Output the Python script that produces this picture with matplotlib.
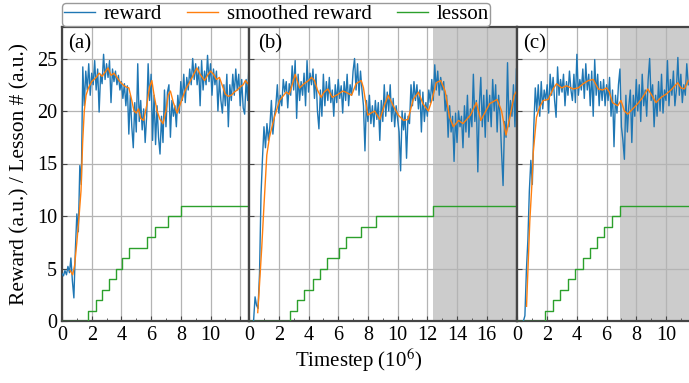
import numpy as np
import matplotlib
matplotlib.use("Agg")
import matplotlib.pyplot as plt
from matplotlib.ticker import MultipleLocator

# ---- data (timesteps in 1e6) ----
T_STEP = 0.1

reward_a_start = 0.0
reward_a = [4.5, 4.3, 4.8, 4.4, 5.2, 4.6, 6.0, 3.8, 2.2, 6.8,
            10.2, 8.5, 14.8, 13.0, 24.2, 20.5, 23.8, 22.0, 24.5, 21.5,
            23.6, 22.5, 24.8, 22.0, 24.0, 19.9, 23.5, 22.6, 25.4, 23.0,
            24.5, 23.2, 24.8, 20.8, 24.0, 22.8, 23.8, 22.5, 23.4, 22.0,
            22.8, 21.2, 22.6, 20.5, 22.4, 17.8, 21.5, 18.5, 16.5, 20.8,
            18.0, 24.5, 19.0, 21.0, 18.2, 20.2, 17.0, 19.5, 24.5, 21.0,
            23.5, 17.2, 21.5, 16.8, 20.5, 17.5, 15.9, 19.5, 17.0, 22.0,
            18.5, 21.8, 22.5, 17.5, 21.0, 19.5, 20.5, 18.5, 21.5, 19.8,
            22.8, 21.0, 23.5, 20.8, 23.2, 22.0, 24.0, 22.5, 25.0, 23.0,
            24.5, 22.5, 24.2, 20.5, 24.8, 22.0, 23.8, 22.5, 25.3, 22.8,
            24.5, 21.5, 24.0, 22.5, 23.8, 20.0, 23.0, 21.0, 19.8, 22.5,
            20.5, 23.5, 18.5, 22.5, 21.0, 23.5, 21.5, 24.0, 22.0, 23.5,
            20.5, 23.0, 20.3, 19.7, 23.0, 21.0, 25.0]

reward_b_start = 0.3
reward_b = [0.0, 2.3, 1.5, 1.2, 4.5, 12.0, 15.5, 18.5, 16.5, 18.8,
            17.2, 18.6, 21.0, 17.8, 19.5, 20.5, 22.5, 19.8, 21.5, 20.5,
            23.0, 21.8, 22.8, 20.3, 22.6, 21.5, 24.3, 22.0, 24.8, 19.3,
            23.5, 21.0, 22.8, 21.5, 23.6, 20.5, 24.8, 21.8, 23.6, 22.5,
            24.0, 21.2, 23.5, 20.0, 18.3, 22.0, 19.5, 23.5, 20.5, 22.8,
            21.0, 23.2, 20.8, 22.0, 19.5, 22.5, 20.8, 23.0, 21.2, 22.4,
            19.8, 22.8, 21.0, 23.5, 20.5, 22.5, 21.5, 23.8, 25.0, 22.0,
            24.5, 21.5, 23.8, 22.0, 20.5, 16.2, 21.0, 19.0, 21.5, 18.8,
            20.5, 18.5, 21.0, 19.2, 20.8, 17.2, 21.0, 19.0, 22.5, 19.5,
            21.8, 20.0, 22.5, 19.0, 21.2, 18.5, 20.5, 19.2, 18.0, 14.3,
            20.0, 18.2, 19.8, 15.5, 19.5, 18.8, 22.5, 20.5, 22.8, 21.0,
            22.5, 20.2, 22.0, 18.0, 21.8, 19.0, 20.8, 19.5, 22.0, 20.8,
            23.0, 21.0, 24.4, 22.0, 23.8, 21.5, 23.2, 22.0, 22.8, 20.0,
            21.5, 17.5, 20.5, 18.0, 19.5, 15.2, 19.8, 17.0, 20.0, 18.5,
            19.5, 16.5, 20.5, 18.0, 21.5, 17.5, 20.2, 18.5, 23.5, 19.0,
            21.0, 14.2, 20.5, 23.2, 18.5, 21.5, 17.5, 22.0, 19.0, 21.5,
            18.5, 23.0, 20.0, 22.5, 18.0, 21.5, 19.5, 16.0, 12.9, 19.0,
            17.5, 24.6, 18.5, 21.0, 19.5, 22.5, 18.5, 24.0]

reward_c_start = 0.4
reward_c = [0.0, 0.5, 4.8, 7.7, 12.4, 15.3, 13.0, 18.5, 22.2, 20.0,
            22.5, 19.5, 22.8, 20.2, 22.0, 21.0, 22.5, 19.8, 23.5, 21.5,
            23.2, 21.0, 19.4, 24.2, 21.5, 23.0, 21.8, 23.5, 20.5, 22.8,
            21.5, 23.8, 22.0, 21.0, 23.5, 20.8, 25.4, 21.5, 23.0, 22.0,
            24.0, 21.2, 24.5, 22.0, 23.5, 20.5, 23.8, 19.5, 24.9, 21.5,
            23.5, 20.5, 22.8, 21.0, 23.0, 20.5, 22.5, 21.0, 23.2, 19.5,
            22.0, 16.6, 21.5, 19.8, 22.5, 24.0, 18.5, 17.2, 15.4, 21.5,
            18.0, 20.5, 22.0, 17.0, 21.5, 19.5, 23.0, 20.0, 22.5, 19.0,
            23.5, 20.5, 22.0, 19.5, 23.0, 25.0, 21.0, 22.5, 18.5, 21.5,
            19.5, 22.8, 20.0, 23.5, 19.8, 22.0, 21.0, 24.8, 20.5, 23.0,
            21.5, 23.8, 20.5, 22.0, 25.1, 21.5, 23.5, 20.8, 22.5, 21.5,
            24.5, 22.5]

smooth_a_t = [0.55, 0.72, 0.85, 1.0, 1.15, 1.28, 1.39, 1.5, 1.62, 1.78,
              2.0, 2.3, 2.5, 2.7, 2.9, 3.1, 3.3, 3.5, 3.7, 3.9,
              4.1, 4.3, 4.5, 4.7, 4.85, 5.0, 5.15, 5.3, 5.5, 5.7,
              5.9, 6.05, 6.2, 6.4, 6.6, 6.8, 7.0, 7.15, 7.3, 7.5,
              7.75, 8.0, 8.3, 8.5, 8.8, 9.08, 9.3, 9.6, 9.8, 10.0,
              10.2, 10.4, 10.6, 10.8, 11.0, 11.2, 11.4, 11.6, 11.8, 12.0,
              12.2, 12.35, 12.5, 12.6]
smooth_a = [4.8, 4.4, 5.3, 7.5, 10.0, 12.4, 17.0, 20.0, 21.5, 22.2,
            22.8, 23.2, 23.6, 23.3, 23.7, 24.1, 23.4, 23.6, 23.2, 22.8,
            22.5, 22.3, 22.2, 21.0, 20.0, 19.8, 20.2, 19.3, 19.1, 20.5,
            22.3, 22.9, 21.5, 20.0, 19.2, 18.8, 20.0, 21.5, 21.9, 20.8,
            19.8, 20.8, 22.0, 22.5, 23.3, 24.1, 23.5, 22.9, 23.4, 23.8,
            23.5, 23.0, 23.2, 22.4, 21.6, 21.4, 21.5, 21.8, 22.0, 22.3,
            22.5, 22.9, 22.6, 22.8]

smooth_b_t = [0.58, 0.7, 0.85, 1.0, 1.1, 1.19, 1.37, 1.7, 2.05, 2.5,
              2.7, 2.9, 3.1, 3.4, 3.7, 4.0, 4.2, 4.4, 4.6, 4.85,
              5.05, 5.3, 5.6, 6.0, 6.3, 6.5, 6.9, 7.2, 7.55, 7.7,
              7.85, 8.0, 8.2, 8.45, 8.8, 9.1, 9.37, 9.7, 10.05, 10.4,
              10.7, 11.05, 11.4, 11.7, 12.07, 12.3, 12.6, 12.9, 13.2, 13.5,
              13.75, 14.1, 14.4, 14.9, 15.3, 15.6, 15.9, 16.2, 16.7, 17.0,
              17.3, 17.6, 17.85, 18.05]
smooth_b = [0.8, 3.5, 7.0, 11.0, 13.5, 15.8, 17.5, 19.4, 21.0, 21.8,
            21.6, 22.5, 23.5, 22.2, 22.6, 22.9, 23.2, 22.9, 22.0, 21.3,
            21.8, 22.1, 21.3, 21.6, 21.9, 21.8, 21.5, 22.6, 22.9, 22.2,
            20.8, 19.6, 19.8, 20.0, 19.2, 20.5, 21.5, 20.5, 19.6, 19.1,
            19.2, 21.1, 21.8, 20.7, 20.0, 21.0, 22.7, 22.9, 21.9, 19.4,
            18.5, 19.1, 18.8, 19.6, 20.8, 19.1, 19.9, 20.7, 21.1, 20.0,
            17.7, 19.7, 21.5, 22.0]

smooth_c_t = [0.61, 0.83, 0.97, 1.06, 1.28, 1.5, 1.73, 2.07, 2.4, 2.63,
              2.97, 3.3, 3.75, 4.09, 4.43, 4.77, 5.1, 5.44, 5.73, 6.0,
              6.18, 6.4, 6.75, 6.97, 7.2, 7.42, 7.76, 8.1, 8.43, 8.77,
              9.0, 9.33, 9.67, 10.0, 10.34, 10.79, 11.0, 11.24, 11.5]
smooth_c = [1.4, 9.5, 13.0, 16.0, 19.4, 20.4, 21.0, 21.1, 22.1, 22.6,
            22.2, 22.4, 22.1, 22.2, 22.6, 22.9, 23.0, 22.1, 22.0, 22.2,
            21.8, 20.8, 20.5, 21.0, 20.0, 19.7, 20.2, 20.7, 21.3, 22.1,
            21.6, 20.8, 21.3, 21.6, 22.0, 22.7, 22.2, 22.1, 22.9]

# lesson switches (timestep, lesson number), last entry = end of run
lesson_a_t = [0, 1.78, 2.29, 2.72, 3.19, 3.62, 4.04, 4.54, 5.73, 6.27, 7.17, 8.02, 12.6]
lesson_b_t = [0, 2.73, 3.2, 3.7, 4.27, 4.75, 5.25, 6.05, 6.55, 7.52, 8.55, 12.39, 18.07]
lesson_c_t = [0, 1.84, 2.36, 2.85, 3.37, 3.89, 4.38, 4.88, 5.37, 5.84, 6.34, 6.92, 11.55]
lesson_lvl = [0, 1, 2, 3, 4, 5, 6, 7, 8, 9, 10, 11, 11]

x_end = [12.6, 18.07, 11.55]
shade_from = [None, 12.39, 6.92]
panel_tags = ["(a)", "(b)", "(c)"]
xtick_vals = [[0, 2, 4, 6, 8, 10, 12],
              [0, 2, 4, 6, 8, 10, 12, 14, 16, 18],
              [0, 2, 4, 6, 8, 10]]
xtick_text = [["0", "2", "4", "6", "8", "10", ""],
              ["0", "2", "4", "6", "8", "10", "12", "14", "16", ""],
              ["0", "2", "4", "6", "8", "10"]]
yticks = [0, 5, 10, 15, 20, 25]

C_REW = "#1f77b4"
C_SMO = "#ff7f0e"
C_LES = "#2ca02c"
C_SPINE = "#454545"

plt.rcParams.update({
    "font.family": "serif",
    "font.serif": ["Liberation Serif", "DejaVu Serif"],
    "mathtext.fontset": "stix",
    "xtick.direction": "in", "ytick.direction": "in",
})

W, H = 689, 383
L_PX, R_PX, T_PX, B_PX = 62, 689, 27, 321
fig = plt.figure(figsize=(W / 100, H / 100), dpi=100)

panels = [
    (reward_a_start, reward_a, smooth_a_t, smooth_a, lesson_a_t),
    (reward_b_start, reward_b, smooth_b_t, smooth_b, lesson_b_t),
    (reward_c_start, reward_c, smooth_c_t, smooth_c, lesson_c_t),
]

px_per_unit = (R_PX - L_PX) / sum(x_end)
x0 = L_PX
axes = []
for i, (r0, rew, st, sm, lt) in enumerate(panels):
    w = px_per_unit * x_end[i]
    ax = fig.add_axes([x0 / W, 1 - B_PX / H, w / W, (B_PX - T_PX) / H])
    x0 += w
    axes.append(ax)

    t = r0 + T_STEP * np.arange(len(rew))
    ax.plot(t, rew, color=C_REW, lw=1.0, label="reward", zorder=3)
    ax.plot(st, sm, color=C_SMO, lw=1.0, label="smoothed reward", zorder=4)
    ax.plot(lt, lesson_lvl, color=C_LES, lw=1.0, drawstyle="steps-post",
            label="lesson", zorder=3)
    if shade_from[i] is not None:
        ax.axvspan(shade_from[i], x_end[i], color="#cccccc", lw=0, zorder=0)

    ax.set_xlim(0, x_end[i])
    ax.set_ylim(0, 28)
    ax.set_xticks(xtick_vals[i])
    ax.set_xticklabels(xtick_text[i])
    ax.xaxis.set_minor_locator(MultipleLocator(1))
    ax.set_yticks(yticks)
    ax.set_axisbelow(True)
    ax.grid(True, which="major", color="#b4b4b4", lw=0.9)
    ax.tick_params(which="major", length=3.5, width=0.8, color=C_SPINE,
                   labelsize=14.5, pad=3.5)
    ax.tick_params(which="minor", length=2, width=0.6, color=C_SPINE)
    if i > 0:
        ax.tick_params(labelleft=False)
    for s in ax.spines.values():
        s.set_color(C_SPINE)
        s.set_linewidth(1.6)
    if i == 2:
        ax.spines["right"].set_visible(False)
    ax.text(0.035, 0.975, panel_tags[i], transform=ax.transAxes,
            ha="left", va="top", fontsize=15)

handles, labels = axes[0].get_legend_handles_labels()
fig.legend(handles, labels, loc="center", bbox_to_anchor=(0.401, 0.962),
           ncol=3, fontsize=15, frameon=True, fancybox=True, edgecolor="#999999",
           borderpad=0.1, handlelength=1.5, handletextpad=0.4,
           columnspacing=1.2, framealpha=1)

fig.text(0.52, 0.058, "Timestep (10$^6$)", ha="center", va="center", fontsize=15)
fig.text(0.029, 0.545, "Reward (a.u.) / Lesson # (a.u.)", ha="center",
         va="center", rotation=90, fontsize=15.5)

fig.savefig("out.png", dpi=100)
